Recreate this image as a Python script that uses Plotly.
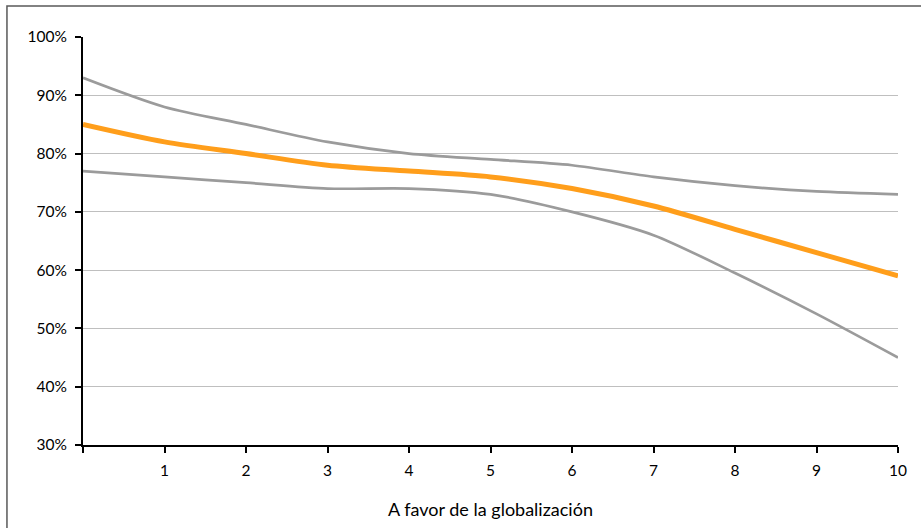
import plotly.graph_objects as go

# Position on the globalisation scale (0 = against, 10 = in favour)
x_vals = [0, 1, 2, 3, 4, 5, 6, 7, 8, 9, 10]

# Central estimate and confidence band (shares)
upper = [0.93, 0.88, 0.85, 0.82, 0.80, 0.79, 0.78, 0.76, 0.745, 0.735, 0.73]
central = [0.85, 0.82, 0.80, 0.78, 0.77, 0.76, 0.74, 0.71, 0.67, 0.63, 0.59]
lower = [0.77, 0.76, 0.75, 0.74, 0.74, 0.73, 0.70, 0.66, 0.595, 0.525, 0.45]

x_tick_vals = [0, 1, 2, 3, 4, 5, 6, 7, 8, 9, 10]
x_tick_text = ["", "1", "2", "3", "4", "5", "6", "7", "8", "9", "10"]
x_title = "A favor de la globalización"

GRAY = "#9B9B9B"
ORANGE = "#FF9E1B"
FONT = "Lato, 'Open Sans', sans-serif"

fig = go.Figure()
fig.add_trace(go.Scatter(x=x_vals, y=upper, mode="lines",
                         line=dict(color=GRAY, width=2.7, shape="spline", smoothing=0.8),
                         showlegend=False, hoverinfo="skip"))
fig.add_trace(go.Scatter(x=x_vals, y=lower, mode="lines",
                         line=dict(color=GRAY, width=2.7, shape="spline", smoothing=0.8),
                         showlegend=False, hoverinfo="skip"))
fig.add_trace(go.Scatter(x=x_vals, y=central, mode="lines",
                         line=dict(color=ORANGE, width=5, shape="spline", smoothing=0.8),
                         showlegend=False))

fig.update_layout(
    width=921, height=528,
    margin=dict(l=83, r=23, t=37, b=83),
    paper_bgcolor="white", plot_bgcolor="white",
    font=dict(family=FONT, size=15.5, color="black"),
    xaxis=dict(
        range=[0, 10], tickvals=x_tick_vals, ticktext=x_tick_text,
        showline=True, linecolor="black", linewidth=2,
        ticks="outside", ticklen=6, tickwidth=2, tickcolor="black",
        ticklabelstandoff=4,
        showgrid=False, zeroline=False,
        title=dict(text=x_title, font=dict(size=18), standoff=26),
    ),
    yaxis=dict(
        range=[0.3, 1.0], dtick=0.1, tickformat=".0%",
        showline=True, linecolor="black", linewidth=2,
        ticks="outside", ticklen=6, tickwidth=2, tickcolor="black",
        ticklabelstandoff=5,
        showgrid=True, gridcolor="#BFBFBF", gridwidth=1.3, zeroline=False,
    ),
    shapes=[dict(
        type="rect", xref="paper", yref="paper",
        x0=-0.0933, x1=1.1, y0=-0.3, y1=1.076,
        line=dict(color="#595959", width=1.5), fillcolor="rgba(0,0,0,0)",
        layer="above",
    )],
)

fig.write_html("out.html")
